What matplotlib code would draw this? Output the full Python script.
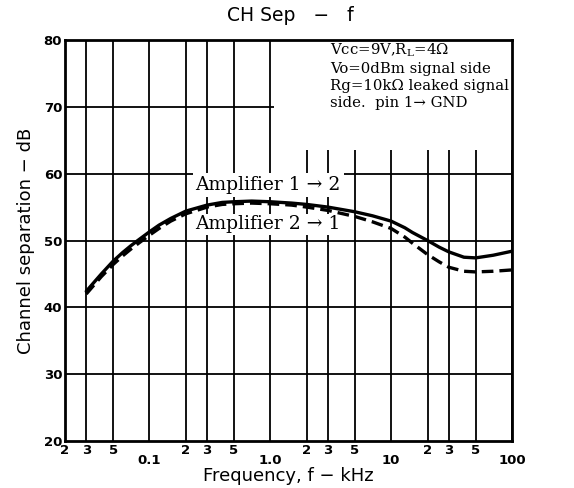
import matplotlib
matplotlib.use("Agg")
import matplotlib.pyplot as plt
from matplotlib.patches import Rectangle

# ---- data ----
freq = [0.03, 0.035, 0.04, 0.05, 0.06, 0.07, 0.08, 0.1, 0.12, 0.15, 0.2, 0.3, 0.4,
        0.5, 0.7, 1.0, 1.5, 2, 3, 5, 7, 10, 13, 15, 20, 25, 30, 40, 50, 70, 100]
amp_1to2 = [42.4, 43.8, 45.0, 46.9, 48.2, 49.2, 50.0, 51.3, 52.3, 53.3, 54.4, 55.3, 55.7,
            55.8, 55.9, 55.8, 55.6, 55.4, 55.0, 54.3, 53.7, 52.9, 51.9, 51.2, 50.0, 49.0,
            48.3, 47.5, 47.4, 47.8, 48.4]
amp_2to1 = [42.0, 43.4, 44.6, 46.4, 47.7, 48.7, 49.5, 50.8, 51.8, 52.9, 54.0, 55.0, 55.4,
            55.5, 55.6, 55.5, 55.3, 55.0, 54.5, 53.6, 52.8, 51.8, 50.5, 49.6, 47.9, 46.8,
            46.0, 45.4, 45.3, 45.4, 45.6]

major_ticks = [0.1, 1.0, 10, 100]
major_labels = ["0.1", "1.0", "10", "100"]
minor_ticks = [0.02, 0.03, 0.05, 0.2, 0.3, 0.5, 2, 3, 5, 20, 30, 50]
minor_labels = ["2", "3", "5"] * 4
y_ticks = [20, 30, 40, 50, 60, 70, 80]

conditions = ["Vcc=9V,R$_\\mathregular{L}$=4Ω",
              "Vo=0dBm signal side",
              "Rg=10kΩ leaked signal",
              "side.  pin 1→ GND"]

plt.rcParams["mathtext.fontset"] = "dejavuserif"
serif = ["DejaVu Serif"]

fig = plt.figure(figsize=(5.74, 4.88), dpi=100)
ax = fig.add_axes([0.1132, 0.0963, 0.7788, 0.8217])

ax.set_xscale("log")
ax.set_xlim(0.02, 100)
ax.set_ylim(20, 80)

# grid
for f in major_ticks + minor_ticks:
    ax.axvline(f, color="black", lw=1.3, zorder=1)
for v in y_ticks[1:-1]:
    ax.axhline(v, color="black", lw=1.3, zorder=1)

# blank area behind the conditions block
ax.add_patch(Rectangle((1.08, 63.6), 100 - 1.08, 80 - 63.6, facecolor="white",
                       edgecolor="none", zorder=2))

ax.plot(freq, amp_1to2, color="black", lw=2.4, zorder=4, solid_capstyle="round")
ax.plot(freq, amp_2to1, color="black", lw=2.4, ls=(0, (3.5, 1.8)), zorder=4)

ax.text(0.24, 58.3, "Amplifier 1 → 2", family=serif, fontsize=13.5, va="center",
        ha="left", zorder=3, bbox=dict(facecolor="white", edgecolor="none", pad=2))
ax.text(0.24, 52.4, "Amplifier 2 → 1", family=serif, fontsize=13.5, va="center",
        ha="left", zorder=3, bbox=dict(facecolor="white", edgecolor="none", pad=1))

ax.text(0.593, 0.997, "\n".join(conditions), transform=ax.transAxes, family=serif,
        fontsize=10.7, va="top", ha="left", linespacing=1.27, zorder=5)

ax.set_xticks(major_ticks)
ax.set_xticklabels(major_labels)
ax.set_xticks(minor_ticks, minor=True)
ax.set_xticklabels(minor_labels, minor=True)
ax.tick_params(axis="x", which="major", length=0, pad=9, labelsize=9.5)
ax.tick_params(axis="x", which="minor", length=0, pad=2, labelsize=9.5)
ax.set_yticks(y_ticks)
ax.tick_params(axis="y", length=0, pad=2, labelsize=9.5)
for lab in ax.get_xticklabels(which="both") + ax.get_yticklabels():
    lab.set_fontweight("bold")

for s in ax.spines.values():
    s.set_linewidth(2.0)
    s.set_zorder(6)

ax.set_xlabel("Frequency, f − kHz", fontsize=13, labelpad=0)
ax.set_ylabel("Channel separation − dB", fontsize=13, labelpad=6)
fig.text(0.505, 0.968, "CH Sep   −   f", fontsize=13.5, ha="center", va="center")

fig.savefig("out.png", dpi=100)
